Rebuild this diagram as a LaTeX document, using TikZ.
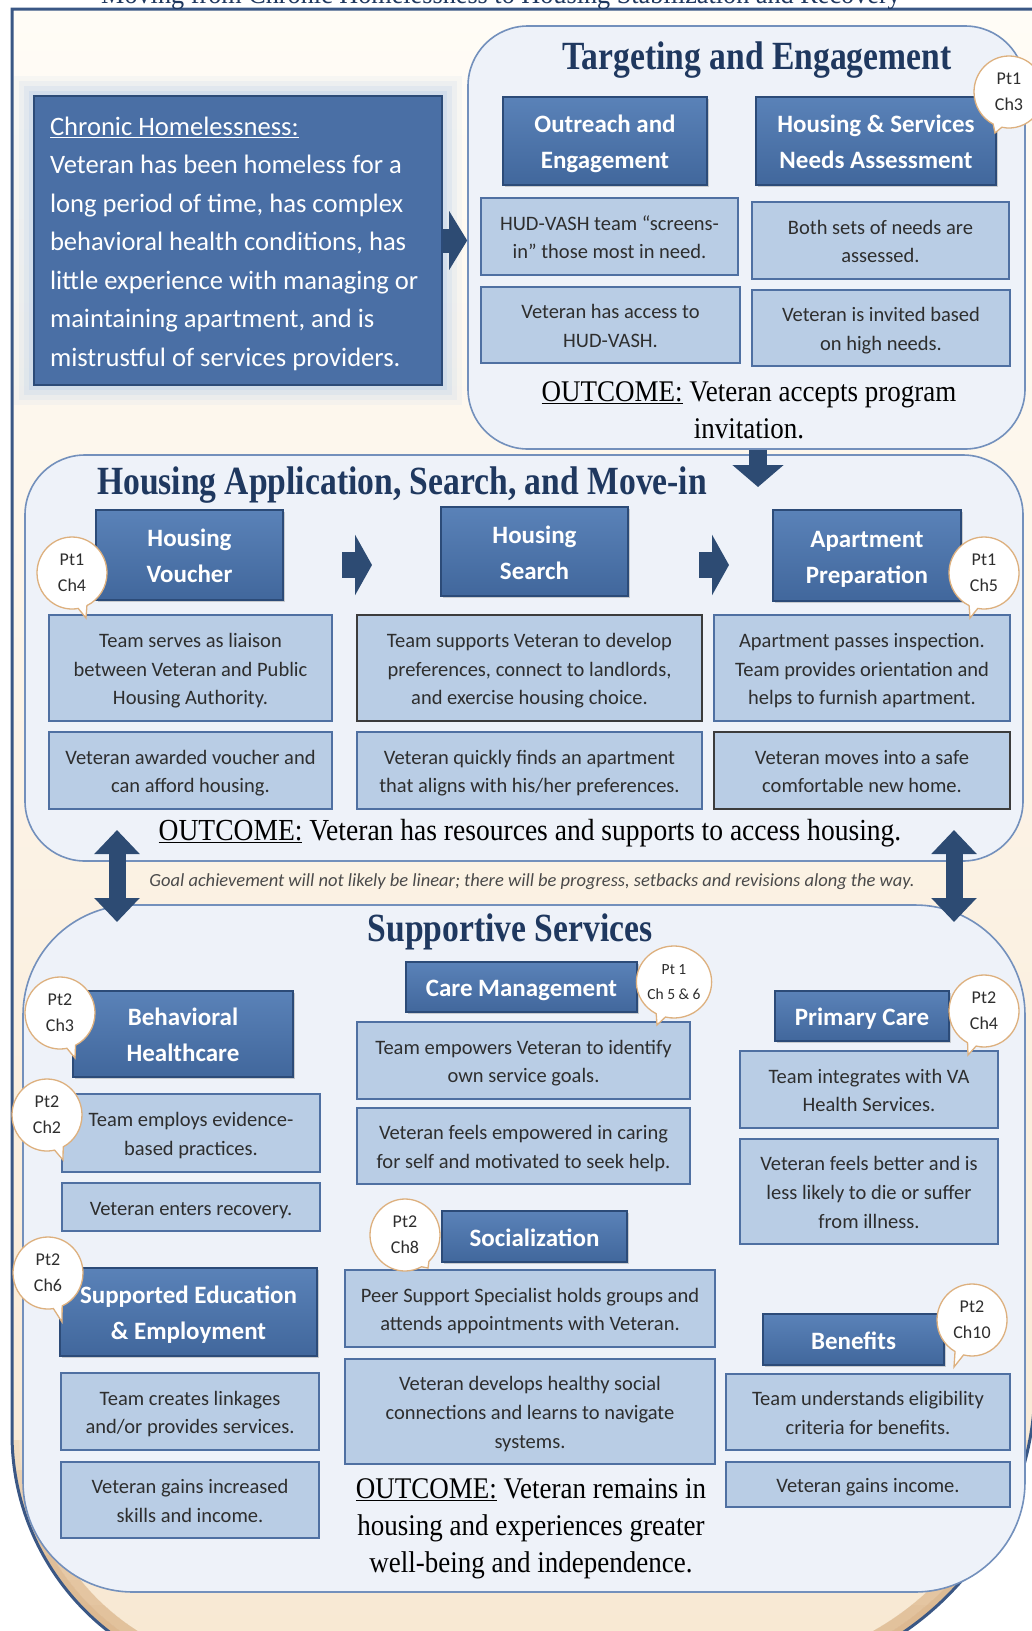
\documentclass[tikz,border=0pt]{standalone}
\usepackage{fontspec}
\setmainfont{Carlito}
\newfontfamily\headserif[FakeStretch=0.84]{Liberation Serif}
\newfontfamily\outserif[FakeStretch=0.9]{Liberation Serif}
\newfontfamily\topserif[FakeStretch=0.92]{Liberation Serif}
\usetikzlibrary{arrows.meta,shapes.callouts,shadows}

\definecolor{panelc}{HTML}{7390BC}
\definecolor{panelfill}{HTML}{EEF2F9}
\definecolor{hbdraw}{HTML}{2C4B78}
\definecolor{hbtop}{HTML}{5A82B8}
\definecolor{hbbot}{HTML}{41679C}
\definecolor{lbfill}{HTML}{B9CDE5}
\definecolor{lbdraw}{HTML}{4F70A2}
\definecolor{lbtext}{HTML}{2E2E2E}
\definecolor{arrc}{HTML}{2D4B73}
\definecolor{titlec}{HTML}{1F385F}
\definecolor{bubc}{HTML}{DDB07E}
\definecolor{framec}{HTML}{3A5785}
\definecolor{creamtop}{HTML}{FFFCF6}
\definecolor{creambot}{HTML}{F8E8D2}
\definecolor{tanc}{HTML}{DDB88E}
\definecolor{glowc}{HTML}{B3CBEA}
\definecolor{darkbord}{HTML}{3C3C3C}
\definecolor{goalc}{HTML}{4A4A4A}
\definecolor{chrfill}{HTML}{4A6FA5}

\newcommand\mylb{\fontsize{20.5}{28.7}\selectfont}
\newcommand\myhb{\fontsize{25}{36}\selectfont\bfseries}
\newcommand\mybub{\fontsize{18}{26}\selectfont}
\newcommand\mybubs{\fontsize{15.5}{25}\selectfont}
\newcommand\myout{\outserif\fontsize{30}{37}\selectfont}
\newcommand\myhead{\headserif\bfseries\fontsize{40}{44}\selectfont}
\newcommand\mychr{\fontsize{26.6}{38.5}\selectfont}
\newcommand\mygoal{\itshape\fontsize{18.5}{22}\selectfont}
\newcommand\mytop{\topserif\fontsize{28.5}{32}\selectfont}

\tikzset{
  panel/.style={draw=panelc, line width=1.6pt, fill=panelfill, inner sep=0pt},
  hbox/.style={draw=hbdraw, line width=1.5pt, top color=hbtop, bottom color=hbbot,
    text=white, font=\myhb, align=flush center, inner sep=0pt,
    minimum width=#1, text width=#1,
    execute at begin node={\rule{0pt}{25pt}},
    execute at end node={\rule[-6pt]{0pt}{0pt}},
    drop shadow={shadow xshift=2pt, shadow yshift=-2pt, opacity=0.35}},
  lbox/.style={draw=lbdraw, line width=1.4pt, fill=lbfill, text=lbtext, font=\mylb,
    align=flush center, inner sep=0pt, minimum width=#1, text width=#1,
    execute at begin node={\rule{0pt}{22pt}},
    execute at end node={\rule[-6pt]{0pt}{0pt}}},
  bubble/.style={ellipse callout, draw=bubc, line width=1.3pt, fill=white,
    minimum width=70pt, minimum height=72pt, inner sep=0pt, font=\mybub,
    align=center, text=lbtext},
  outc/.style={font=\myout, text=black, align=center},
  ptitle/.style={font=\myhead, text=titlec, anchor=base},
  barrow/.style={draw=arrc, line width=#1}
}

\begin{document}
\begin{tikzpicture}[x=1pt,y=-1pt]
\useasboundingbox (0,0) rectangle (1032,1631);

% outer frame
\def\framepath{(12,9) -- (1035,9) -- (1035,1384) arc[start angle=0,end angle=90,radius=300] -- (262,1684) arc[start angle=90,end angle=180,radius=250] -- cycle}
\shade[top color=creamtop, bottom color=creambot] \framepath;
\begin{scope}
  \clip \framepath;
  \foreach \s in {1440,1470,1500,1530,1555,1580,1605} {
    \begin{scope}
      \clip (0,\s) rectangle (1100,1720);
      \draw[tanc, line width=34pt, opacity=0.18] \framepath;
      \draw[tanc, line width=14pt, opacity=0.14] \framepath;
    \end{scope}
  }
\end{scope}
\draw[framec, line width=3pt] \framepath;

% title (cut at top)
\node[font=\mytop, text=titlec, anchor=base] (maintitle) at (501,3)
  {Moving from Chronic Homelessness to Housing Stabilization and Recovery};

% chronic homelessness box with glow
\foreach \g/\o in {20/0.10,15/0.14,10/0.2,5/0.3}
  \fill[glowc, opacity=\o] ({34-\g},{96-\g}) rectangle ({442+\g},{385+\g});
\node[draw=hbdraw, line width=2pt, fill=chrfill, text=white, font=\mychr,
  minimum width=408pt, minimum height=289pt, text width=376pt, align=flush left,
  inner sep=0pt, execute at begin node={\rule{0pt}{27pt}},
  execute at end node={\rule[-6.5pt]{0pt}{0pt}}] (chronic) at (238,240.5)
  {\underline{Chronic Homelessness:}\\Veteran has been homeless for a\\long period of time, has complex\\behavioral health conditions, has\\little experience with managing or\\maintaining apartment, and is\\mistrustful of services providers.};

% panels
\node[panel, rounded corners=60pt, minimum width=557pt, minimum height=423pt] (tgt) at (746.5,237.5) {};
\node[panel, rounded corners=60pt, minimum width=998pt, minimum height=406pt] (hsg) at (524,658) {};
\node[panel, rounded corners=110pt, minimum width=1002pt, minimum height=687pt] (sup) at (524,1248.5) {};

% panel titles
\node[ptitle] (tgttitle) at (757,69) {Targeting and Engagement};
\node[ptitle] (hsgtitle) at (402,494) {Housing Application, Search, and Move-in};
\node[ptitle] (suptitle) at (510,941) {Supportive Services};

% Targeting and Engagement
\node[hbox=204pt, minimum height=88pt] (outreach) at (605,141) {Outreach and\\Engagement};
\node[hbox=240pt, minimum height=88pt] (needs) at (876,141) {Housing \& Services\\Needs Assessment};
\node[lbox=257pt, minimum height=77pt] (hud) at (609.5,236.5) {HUD-VASH team “screens-\\in” those most in need.};
\node[lbox=257pt, minimum height=77pt] (both) at (880.5,240.5) {Both sets of needs are\\assessed.};
\node[lbox=259pt, minimum height=76pt] (access) at (610.5,325) {Veteran has access to\\HUD-VASH.};
\node[lbox=258pt, minimum height=76pt] (invited) at (881,328) {Veteran is invited based\\on high needs.};
\node[outc] (out1) at (749,410) {\underline{OUTCOME:} Veteran accepts program\\invitation.};

% Housing Application
\node[hbox=187pt, minimum height=90pt] (voucher) at (189.5,555) {Housing\\Voucher};
\node[hbox=187pt, minimum height=89pt] (search) at (534.5,551.5) {Housing\\Search};
\node[hbox=188pt, minimum height=91pt] (aptprep) at (867,555.5) {Apartment\\Preparation};
\node[lbox=283pt, minimum height=106pt] (liaison) at (190.5,668) {Team serves as liaison\\between Veteran and Public\\Housing Authority.};
\node[lbox=345pt, draw=darkbord, minimum height=106pt] (supports) at (529.5,668) {Team supports Veteran to develop\\preferences, connect to landlords,\\and exercise housing choice.};
\node[lbox=296pt, minimum height=106pt] (passes) at (862,668) {Apartment passes inspection.\\Team provides orientation and\\helps to furnish apartment.};
\node[lbox=283pt, minimum height=77pt] (awarded) at (190.5,770.5) {Veteran awarded voucher and\\can afford housing.};
\node[lbox=345pt, minimum height=77pt] (finds) at (529.5,770.5) {Veteran quickly finds an apartment\\that aligns with his/her preferences.};
\node[lbox=296pt, draw=darkbord, minimum height=77pt] (moves) at (862,770.5) {Veteran moves into a safe\\comfortable new home.};
\node[outc, anchor=base, font=\outserif\fontsize{30.6}{37}\selectfont] (out2) at (530,840) {\underline{OUTCOME:} Veteran has resources and supports to access housing.};

% goal note
\node[font=\mygoal, text=goalc] (goal) at (532,882) {Goal achievement will not likely be linear; there will be progress, setbacks and revisions along the way.};

% Supportive Services
\node[hbox=220pt, minimum height=86pt] (behav) at (183,1034) {Behavioral\\Healthcare};
\node[hbox=231pt, minimum height=50pt] (caremgmt) at (521.5,987) {Care Management};
\node[hbox=174pt, minimum height=50pt] (primary) at (862,1016) {Primary Care};
\node[hbox=185pt, minimum height=51pt] (social) at (534.5,1236.5) {Socialization};
\node[hbox=257pt, minimum height=88pt] (supped) at (188.5,1312) {Supported Education\\\& Employment};
\node[hbox=181pt, minimum height=51pt] (benefits) at (853.5,1339.5) {Benefits};

\node[lbox=258pt, minimum height=78pt] (employs) at (191,1133) {Team employs evidence-\\based practices.};
\node[lbox=258pt, minimum height=48pt] (recovery) at (191,1207) {Veteran enters recovery.};
\node[lbox=333pt, minimum height=77pt] (empowers) at (523.5,1060.5) {Team empowers Veteran to identify\\own service goals.};
\node[lbox=333pt, minimum height=76pt] (feels) at (523.5,1146) {Veteran feels empowered in caring\\for self and motivated to seek help.};
\node[lbox=258pt, minimum height=77pt] (integrates) at (869,1089.5) {Team integrates with VA\\Health Services.};
\node[lbox=258pt, minimum height=105pt] (better) at (869,1191.5) {Veteran feels better and is\\less likely to die or suffer\\from illness.};
\node[lbox=370pt, minimum height=77pt] (peer) at (530,1308.5) {Peer Support Specialist holds groups and\\attends appointments with Veteran.};
\node[lbox=370pt, minimum height=105pt] (develops) at (530,1411.5) {Veteran develops healthy social\\connections and learns to navigate\\systems.};
\node[lbox=258pt, minimum height=77pt] (linkages) at (190,1411.5) {Team creates linkages\\and/or provides services.};
\node[lbox=258pt, minimum height=76pt] (gains) at (190,1500) {Veteran gains increased\\skills and income.};
\node[lbox=284pt, minimum height=76pt] (eligib) at (868,1412) {Team understands eligibility\\criteria for benefits.};
\node[lbox=284pt, minimum height=45pt] (income) at (868,1484.5) {Veteran gains income.};
\node[outc] (out3) at (531,1529) {\underline{OUTCOME:} Veteran remains in\\housing and experiences greater\\well-being and independence.};

% arrows
\coordinate (dn2) at (758,487);
\coordinate (ra1s) at (342,565); \coordinate (ra1e) at (372,565);
\coordinate (ra2s) at (699,565); \coordinate (ra2e) at (729,565);
\coordinate (la1) at (117,830); \coordinate (la2) at (117,922);
\coordinate (rb1) at (954,830); \coordinate (rb2) at (954,922);

\draw[barrow=24pt, -{Triangle[width=58pt,length=18pt]}] (chronic.east) -- (chronic.east -| tgt.west);
\draw[barrow=18pt, -{Triangle[width=50pt,length=22pt]}] (tgt.south -| dn2) -- (dn2);
\draw[barrow=26pt, -{Triangle[width=60pt,length=17pt]}] (ra1s) -- (ra1e);
\draw[barrow=26pt, -{Triangle[width=60pt,length=17pt]}] (ra2s) -- (ra2e);
\draw[barrow=17pt, {Triangle[width=44pt,length=24pt]}-{Triangle[width=44pt,length=24pt]}] (la1) -- (la2);
\draw[barrow=17pt, {Triangle[width=44pt,length=24pt]}-{Triangle[width=44pt,length=24pt]}] (rb1) -- (rb2);

% chapter bubbles
\node[bubble, callout absolute pointer={(995,133)}] (b1) at (1009,92) {Pt1\\Ch3};
\node[bubble, callout absolute pointer={(86,618)}] (b2) at (72,573) {Pt1\\Ch4};
\node[bubble, callout absolute pointer={(970,618)}] (b3) at (984,573) {Pt1\\Ch5};
\node[bubble, callout absolute pointer={(75,1058)}] (b4) at (60,1013) {Pt2\\Ch3};
\node[bubble, callout absolute pointer={(63,1160)}] (b5) at (47,1115) {Pt2\\Ch2};
\node[bubble, font=\mybubs, callout absolute pointer={(657,1025)}] (b6) at (674,982) {Pt 1\\Ch 5 \& 6};
\node[bubble, callout absolute pointer={(968,1055)}] (b7) at (984,1011) {Pt2\\Ch4};
\node[bubble, callout absolute pointer={(428,1268)}] (b8) at (405,1235) {Pt2\\Ch8};
\node[bubble, callout absolute pointer={(62,1322)}] (b9) at (48,1273) {Pt2\\Ch6};
\node[bubble, callout absolute pointer={(954,1367)}] (b10) at (972,1320) {Pt2\\Ch10};
\end{tikzpicture}
\end{document}
